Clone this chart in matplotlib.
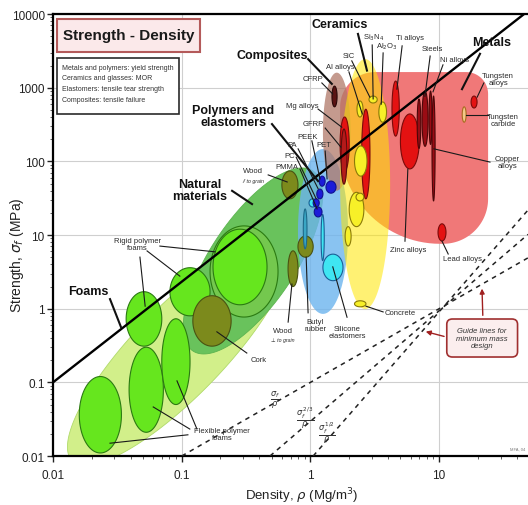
import numpy as np
import matplotlib.pyplot as plt
from matplotlib.patches import Rectangle, FancyBboxPatch
from matplotlib.ticker import FixedLocator, FixedFormatter, LogLocator, NullFormatter

plt.rcParams['font.family'] = ['Liberation Sans Narrow', 'Liberation Sans', 'DejaVu Sans']

# ---- data: density (Mg/m3) and strength (MPa) ranges ----
RHO_LIM = (0.01, 49)
SIG_LIM = (0.01, 10000)

# family envelopes
env_names = ['Foams', 'Natural materials', 'Polymers and elastomers', 'Metals', 'Composites', 'Ceramics']
env_rho = [(0.0141, 0.635), (0.122, 1.047), (0.80, 1.96), (1.70, 24.0), (1.25, 2.05), (1.70, 4.16)]
env_sig = [(0.0086, 8.06), (0.267, 74), (0.85, 147), (7.6, 1630), (40, 1600), (0.99, 2450)]
env_spread = [0.35, 0.33, 0, 0, 0, 0]   # half width across the trend (decades of density)

# single material bubbles
mat_names = ['Rigid foam range', 'Flexible foam 1', 'Flexible foam 2', 'Flexible foam 3',
             'Rigid foam 1', 'Rigid foam 2', 'Rigid foam 3', 'Cork', 'Wood //', 'Wood perp',
             'Butyl rubber', 'Neoprene', 'Silicone elastomers', 'PU', 'PS', 'PEEK', 'PET', 'PA',
             'PC', 'PMMA', 'CFRP', 'Mg alloys', 'GFRP', 'Al alloys', 'Glass', 'Si3N4', 'SiC',
             'Al2O3', 'Stone', 'Brick', 'Limestone', 'Concrete', 'Ti alloys', 'Zinc alloys',
             'Cast irons', 'Steels', 'Ni alloys', 'Copper alloys', 'Tungsten alloys',
             'Tungsten carbide', 'Lead alloys']
mat_rho = [(0.166, 0.56), (0.016, 0.034), (0.039, 0.072), (0.070, 0.116),
           (0.037, 0.070), (0.081, 0.166), (0.175, 0.46), (0.122, 0.242), (0.60, 0.80), (0.67, 0.80),
           (0.80, 1.05), (0.88, 0.94), (1.25, 1.79), (1.21, 1.28), (0.975, 1.11), (1.17, 1.30), (1.32, 1.58), (1.12, 1.25),
           (1.05, 1.17), (1.07, 1.23), (1.47, 1.61), (1.70, 2.0), (1.73, 1.92), (2.5, 2.9), (2.2, 2.75), (2.3, 2.56), (2.85, 3.3),
           (3.4, 3.9), (2.0, 2.6), (2.26, 2.6), (1.86, 2.07), (2.2, 2.7), (4.3, 4.9), (5.0, 7.0),
           (6.75, 7.2), (7.36, 8.2), (8.35, 8.8), (8.8, 9.3), (17.7, 19.7),
           (15.1, 16.2), (9.8, 11.3)]
mat_sig = [(0.77, 13.3), (0.011, 0.12), (0.021, 0.30), (0.050, 0.73),
           (0.31, 1.7), (0.80, 3.6), (1.13, 12), (0.31, 1.5), (31, 74), (2.0, 6.1),
           (5.0, 9.7), (6.5, 22.6), (2.4, 5.5), (4.5, 19), (24, 31), (46, 63), (37, 54), (31, 42),
           (24, 31), (17.6, 24), (550, 1050), (74, 400), (49, 275), (31, 510), (63, 162), (400, 660), (620, 770),
           (340, 640), (13, 38), (29, 37), (7.1, 13), (1.06, 1.28), (220, 1230), (79, 440),
           (150, 700), (160, 900), (170, 900), (29, 770), (530, 770),
           (340, 550), (8.3, 14.2)]
mat_group = ['ring', 'foam', 'foam', 'foam', 'foam', 'foam', 'foam', 'natural', 'natural', 'natural',
             'natural', 'elastomer', 'silicone', 'silicone', 'silicone', 'polymer', 'polymer', 'polymer',
             'polymer', 'polymer', 'cfrp', 'metal', 'gfrp', 'metal', 'ceramic', 'ceramic', 'ceramic',
             'ceramic', 'ceramic', 'ceramic', 'ceramic', 'ceramic', 'metal', 'metal',
             'dark', 'dark', 'dark', 'dark', 'metal', 'carbide', 'metal']

# strength/density trend line and minimum-mass guide lines
trend_rho = [0.01, 49]
trend_sig = [0.1, 11000]
guide_rho = [[0.1, 49], [0.485, 49], [1.05, 49]]
guide_sig = [[0.01, 4.9], [0.01, 10.2], [0.01, 21.8]]
guide_labels = [r'$\frac{\sigma_f}{\rho}$', r'$\frac{\sigma_f^{\,2/3}}{\rho}$', r'$\frac{\sigma_f^{\,1/2}}{\rho}$']

x_ticks = [0.01, 0.1, 1, 10]
x_ticklabels = ['0.01', '0.1', '1', '10']
y_ticks = [0.01, 0.1, 1, 10, 100, 1000, 10000]
y_ticklabels = ['0.01', '0.1', '1', '10', '100', '1000', '10000']

# ---- figure ----
fig = plt.figure(figsize=(5.28, 5.06), dpi=100)
AX_W, AX_H = 0.8996, 0.8735
ax = fig.add_axes([0.1004, 0.0968, AX_W, AX_H])
ax.set_xscale('log')
ax.set_yscale('log')
ax.set_xlim(*RHO_LIM)
ax.set_ylim(*SIG_LIM)

# pixels per decade, used to shape the tilted / rounded envelopes
kx = fig.get_figwidth() * fig.dpi * AX_W / np.log10(RHO_LIM[1] / RHO_LIM[0])
ky = fig.get_figheight() * fig.dpi * AX_H / np.log10(SIG_LIM[1] / SIG_LIM[0])
tt = np.linspace(0, 2 * np.pi, 160)


def ellipse(rho, sig):
    lx, ly = np.log10(rho), np.log10(sig)
    return (10 ** (lx.mean() + (lx[1] - lx[0]) / 2 * np.cos(tt)),
            10 ** (ly.mean() + (ly[1] - ly[0]) / 2 * np.sin(tt)))


def tilted(rho, sig, spread):
    u, v = np.log10(rho) * kx, np.log10(sig) * ky
    d = np.array([u[1] - u[0], v[1] - v[0]]) / 2
    n = np.array([-d[1], d[0]]) / np.hypot(*d) * spread * kx
    pu = u.mean() + d[0] * np.cos(tt) + n[0] * np.sin(tt)
    pv = v.mean() + d[1] * np.cos(tt) + n[1] * np.sin(tt)
    return 10 ** (pu / kx), 10 ** (pv / ky)


def rounded_box(rho, sig, radii):
    u0, u1 = np.log10(rho) * kx
    v0, v1 = np.log10(sig) * ky
    rbl, rbr, rtr, rtl = radii
    corners = [(u0 + rbl, v0 + rbl, rbl, 180), (u1 - rbr, v0 + rbr, rbr, 270),
               (u1 - rtr, v1 - rtr, rtr, 0), (u0 + rtl, v1 - rtl, rtl, 90)]
    pu, pv = [], []
    for cu, cv, r, a0 in corners:
        a = np.radians(np.linspace(a0, a0 + 90, 30))
        pu.append(cu + r * np.cos(a))
        pv.append(cv + r * np.sin(a))
    return 10 ** (np.concatenate(pu) / kx), 10 ** (np.concatenate(pv) / ky)


env_style = {
    'Foams': dict(fc='#d2ef8a', ec='#b0da6a', lw=0.6, zorder=1),
    'Natural materials': dict(fc='#69c25c', ec='#5cb450', lw=0.6, zorder=1.1),
    'Polymers and elastomers': dict(fc='#6cb4ee', ec='none', alpha=0.8, zorder=1.2),
    'Metals': dict(fc='#f07878', ec='none', zorder=1.3),
    'Composites': dict(fc='#b07868', ec='none', alpha=0.75, zorder=1.4),
    'Ceramics': dict(fc='#ffe600', ec='none', alpha=0.55, zorder=1.5),
}
for name, rho, sig, spread in zip(env_names, env_rho, env_sig, env_spread):
    if spread > 0:
        x, y = tilted(rho, sig, spread)
    elif name == 'Metals':
        x, y = rounded_box(rho, sig, (100, 45, 22, 35))
    else:
        x, y = ellipse(rho, sig)
    ax.fill(x, y, **env_style[name])

group_style = {
    'ring': ('#74c84e', '#2b7a12'), 'foam': ('#66e61e', '#2b7a12'),
    'natural': ('#7c8a1c', '#4a5212'), 'elastomer': ('#3aa6c4', '#1d6a8a'),
    'silicone': ('#3fe6f2', '#1a5f96'), 'polymer': ('#1c1cd8', '#101090'),
    'cfrp': ('#5a1414', '#2a0808'), 'gfrp': ('#b41a1a', '#5a0c0c'),
    'metal': ('#e41212', '#7a0a0a'), 'dark': ('#9a0c14', '#4a0608'),
    'ceramic': ('#f7f028', '#8a7a08'), 'carbide': ('#f2c888', '#a86a20'),
}
for rho, sig, g in zip(mat_rho, mat_sig, mat_group):
    x, y = ellipse(rho, sig)
    fc, ec = group_style[g]
    ax.fill(x, y, fc=fc, ec=ec, lw=0.8, zorder=3)

ax.plot(trend_rho, trend_sig, color='black', lw=1.7, zorder=4, solid_capstyle='butt')
for gx, gy in zip(guide_rho, guide_sig):
    ax.plot(gx, gy, color='#222222', lw=1.1, ls=(0, (3, 3)), zorder=4)

# ---- axes cosmetics ----
ax.xaxis.set_major_locator(FixedLocator(x_ticks))
ax.xaxis.set_major_formatter(FixedFormatter(x_ticklabels))
ax.yaxis.set_major_locator(FixedLocator(y_ticks))
ax.yaxis.set_major_formatter(FixedFormatter(y_ticklabels))
ax.xaxis.set_minor_locator(LogLocator(subs=np.arange(2, 10)))
ax.yaxis.set_minor_locator(LogLocator(subs=np.arange(2, 10)))
ax.xaxis.set_minor_formatter(NullFormatter())
ax.yaxis.set_minor_formatter(NullFormatter())
ax.tick_params(which='major', direction='out', length=4, width=1, labelsize=8.5, pad=2, colors='#222222')
ax.tick_params(axis='x', which='major', pad=5)
ax.tick_params(which='minor', direction='out', length=2, width=0.6, colors='#444444')
ax.grid(True, which='major', color='#cfcfcf', lw=0.8)
ax.set_axisbelow(True)
for s in ['left', 'bottom', 'top']:
    ax.spines[s].set_linewidth(1.6)
ax.spines['right'].set_visible(False)

ax.set_ylabel(r'Strength, $\sigma_f$ (MPa)', fontsize=10, family=['Liberation Sans', 'DejaVu Sans'], color='#222222')
ax.yaxis.set_label_coords(-0.057, 0.457)
ax.set_xlabel(r'Density, $\rho$ (Mg/m$^3$)', fontsize=9.5, color='#222222')
ax.xaxis.set_label_coords(0.524, -0.066)

tr = ax.transAxes

# title and legend boxes
ax.add_patch(Rectangle((0.0084, 0.914), 0.301, 0.075, transform=tr, fc='#fbe9ea', ec='#b45a5a', lw=1.5, zorder=6))
ax.text(0.159, 0.952, 'Strength - Density', transform=tr, ha='center', va='center',
        fontsize=11, fontweight='bold', color='#1a1a1a', zorder=7)
ax.add_patch(Rectangle((0.0084, 0.774), 0.257, 0.127, transform=tr, fc='white', ec='#2a2a2a', lw=1.2, zorder=6))
ax.text(0.019, 0.888, 'Metals and polymers: yield strength\nCeramics and glasses: MOR\n'
        'Elastomers: tensile tear strength\nComposites: tensile failure',
        transform=tr, ha='left', va='top', fontsize=5, linespacing=1.75, color='#333333', zorder=7)

# family labels (bold) and material labels with leader lines
big_labels = [
    ('Ceramics', 0.604, 0.977, [(0.642, 0.955, 0.661, 0.872)]),
    ('Composites', 0.461, 0.907, [(0.537, 0.898, 0.587, 0.842)]),
    ('Metals', 0.924, 0.937, [(0.899, 0.910, 0.861, 0.830)]),
    ('Polymers and\nelastomers', 0.379, 0.769, [(0.461, 0.751, 0.558, 0.622)]),
    ('Natural\nmaterials', 0.309, 0.602, [(0.377, 0.600, 0.419, 0.570)]),
    ('Foams', 0.074, 0.373, [(0.120, 0.355, 0.143, 0.292)]),
]
small_labels = [
    ('Rigid polymer\nfoams', 0.177, 0.480, [(0.183, 0.450, 0.194, 0.339), (0.198, 0.464, 0.267, 0.407),
                                            (0.225, 0.475, 0.341, 0.462)]),
    ('Flexible polymer\nfoams', 0.356, 0.050, [(0.284, 0.048, 0.120, 0.029), (0.288, 0.061, 0.211, 0.111),
                                               (0.303, 0.061, 0.261, 0.170)]),
    ('Cork', 0.432, 0.219, [(0.408, 0.233, 0.345, 0.281)]),
    ('Wood', 0.421, 0.645, [(0.453, 0.636, 0.493, 0.620)]),
    ('Wood', 0.484, 0.283, [(0.495, 0.303, 0.503, 0.389)]),
    ('Butyl\nrubber', 0.552, 0.296, [(0.537, 0.324, 0.533, 0.450)]),
    ('Silicone\nelastomers', 0.619, 0.281, [(0.619, 0.314, 0.589, 0.428)]),
    ('Concrete', 0.731, 0.324, [(0.695, 0.326, 0.659, 0.339)]),
    ('Zinc alloys', 0.747, 0.468, [(0.741, 0.486, 0.747, 0.649)]),
    ('Lead alloys', 0.863, 0.446, [(0.832, 0.457, 0.819, 0.486)]),
    ('Copper\nalloys', 0.956, 0.665, [(0.920, 0.665, 0.802, 0.695)]),
    ('Tungsten\ncarbide', 0.947, 0.760, [(0.916, 0.771, 0.869, 0.771)]),
    ('Tungsten\nalloys', 0.937, 0.853, [(0.907, 0.844, 0.893, 0.812)]),
    ('Ni alloys', 0.846, 0.898, [(0.821, 0.885, 0.800, 0.824)]),
    ('Steels', 0.798, 0.921, [(0.794, 0.905, 0.783, 0.814)]),
    ('Ti alloys', 0.752, 0.946, [(0.735, 0.928, 0.724, 0.830)]),
    (r'Si$_3$N$_4$', 0.674, 0.948, [(0.672, 0.930, 0.674, 0.808)]),
    (r'Al$_2$O$_3$', 0.703, 0.928, [(0.695, 0.912, 0.691, 0.796)]),
    ('SiC', 0.623, 0.907, [(0.629, 0.894, 0.667, 0.812)]),
    ('Al alloys', 0.604, 0.882, [(0.623, 0.869, 0.651, 0.774)]),
    ('CFRP', 0.547, 0.855, [(0.566, 0.844, 0.589, 0.819)]),
    ('Mg alloys', 0.524, 0.792, [(0.558, 0.785, 0.608, 0.744)]),
    ('GFRP', 0.547, 0.753, [(0.573, 0.742, 0.606, 0.699)]),
    ('PEEK', 0.537, 0.724, [(0.545, 0.713, 0.562, 0.627)]),
    ('PET', 0.571, 0.704, [(0.573, 0.690, 0.577, 0.627)]),
    ('PA', 0.503, 0.704, [(0.516, 0.695, 0.558, 0.605)]),
    ('PC', 0.499, 0.681, [(0.512, 0.676, 0.554, 0.582)]),
    ('PMMA', 0.493, 0.654, [(0.520, 0.649, 0.556, 0.559)]),
]
for text, x, y, leaders in big_labels:
    ax.text(x, y, text, transform=tr, ha='center', va='center', fontsize=9, fontweight='bold',
            linespacing=1.0, color='#111111', zorder=7)
    for x0, y0, x1, y1 in leaders:
        ax.plot([x0, x1], [y0, y1], transform=tr, color='#111111', lw=1.5, zorder=6)
for text, x, y, leaders in small_labels:
    ax.text(x, y, text, transform=tr, ha='center', va='center', fontsize=5.5,
            linespacing=1.1, color='#2a2a2a', zorder=7)
    for x0, y0, x1, y1 in leaders:
        ax.plot([x0, x1], [y0, y1], transform=tr, color='#1a1a1a', lw=0.8, zorder=6)
ax.text(0.421, 0.624, '// to grain', transform=tr, ha='center', va='center', fontsize=3.8,
        style='italic', color='#2a2a2a', zorder=7)
ax.text(0.484, 0.263, '\u22a5 to grain', transform=tr, ha='center', va='center', fontsize=3.8,
        style='italic', color='#2a2a2a', zorder=7)

# guide line labels
for lab, x, y in zip(guide_labels, [0.467, 0.531, 0.577], [0.129, 0.088, 0.054]):
    ax.text(x, y, lab, transform=tr, ha='center', va='center', fontsize=8.5, color='#333333', zorder=7)

ax.add_patch(FancyBboxPatch((0.829, 0.224), 0.149, 0.086, boxstyle='round,pad=0,rounding_size=0.012',
                            transform=tr, fc='#fbeeee', ec='#a03030', lw=1.2, zorder=6))
ax.text(0.903, 0.267, 'Guide lines for\nminimum mass\ndesign', transform=tr, ha='center', va='center',
        fontsize=5.5, style='italic', color='#333333', linespacing=1.15, zorder=7)
for start, end in [((0.905, 0.312), (0.903, 0.385)), ((0.829, 0.269), (0.779, 0.283))]:
    ax.annotate('', xy=end, xytext=start, xycoords='axes fraction', textcoords='axes fraction',
                arrowprops=dict(arrowstyle='-|>', color='#a02020', lw=1.0, mutation_scale=7), zorder=7)
ax.text(0.979, 0.016, 'MFA, 04', transform=tr, ha='center', va='center', fontsize=3, color='#777777')

fig.savefig('out.png', dpi=100)
